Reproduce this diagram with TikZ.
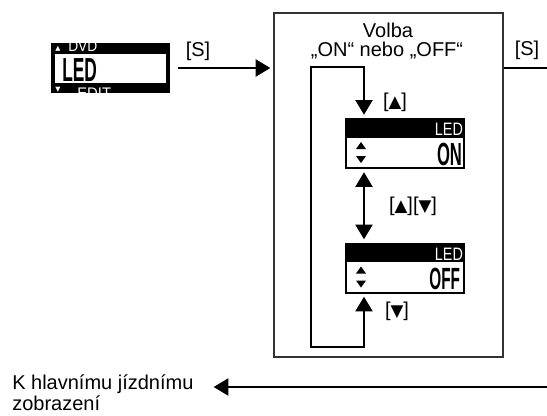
\documentclass[tikz,border=0pt]{standalone}
\usepackage{fontspec}
\setmainfont{Liberation Sans}
\newfontfamily\symf{DejaVu Sans}
\usetikzlibrary{arrows.meta,calc}
\newdimen\pxu \pxu=0.75pt
\newcommand{\wt}[1]{#1}
\newcommand{\tri}[1]{{\symf\fontsize{12.5}{12.5}\selectfont #1}}
\newcommand{\lcd}[3]{\scalebox{#1}[1]{\fontsize{#2}{#2}\selectfont #3}}
\tikzset{
  arr/.style={-{Triangle[width=13pt,length=11pt]}, line width=0.8pt},
  dbl/.style={{Triangle[width=13pt,length=11pt]}-{Triangle[width=13pt,length=11pt]}, line width=0.8pt},
  plainline/.style={line width=0.8pt},
  lbl/.style={font=\fontsize{15}{17}\selectfont, inner sep=0pt},
  dispbox/.style={fill=black, draw=none, minimum width=120\pxu, minimum height=51\pxu, inner sep=0pt},
  panelbox/.style={draw=black!80, line width=1.1pt, minimum width=229\pxu, minimum height=344\pxu, inner sep=0pt},
  lcdw/.style={text=white, inner sep=0pt},
  lcdb/.style={text=black, inner sep=0pt, font=\bfseries},
}
\begin{document}
\begin{tikzpicture}[x=0.75pt,y=-0.75pt]
\useasboundingbox (0,0) rectangle (547,415);

% main panel
\node[panelbox] (panel) at (388.5,185) {};
\node[lbl, anchor=base] (volba1) at (388,37) {\wt{Volba}};
\node[lbl, anchor=base] (volba2) at (387,56) {\wt{„ON“ nebo „OFF“}};

% left display
\node[dispbox, minimum width=119\pxu, minimum height=50\pxu] (menu) at (110.5,68) {};
\fill[white] (55,54) rectangle (166,83);
\begin{scope}
  \clip (51,43) rectangle (170,53);
  \node[lcdw, anchor=base west] (uparr) at (55,50) {{\symf\fontsize{5}{5}\selectfont ▲}};
  \node[lcdw, anchor=base west] (dvd) at (68,51) {\lcd{0.9}{11.5}{DVD}};
\end{scope}
\begin{scope}
  \clip (51,83) rectangle (170,93);
  \node[lcdw, anchor=base west] (dnarr) at (55,91) {{\symf\fontsize{5}{5}\selectfont ▼}};
  \node[lcdw, anchor=base west] (edit) at (77,98) {\lcd{0.97}{11.5}{EDIT.}};
\end{scope}
\node[lcdb, anchor=base west] (menuled) at (62,81) {\lcd{0.52}{25}{LED}};

% display ON
\node[dispbox] (don) at (405,143.5) {};
\fill[white] ($(don.south west)+(2,-2)$) rectangle ($(don.north east)+(-2,20)$);
\node[lcdw, anchor=base east] (donled) at ($(don.north east)+(-2,18)$) {\lcd{0.8}{13.5}{LED}};
\node[lcdb, anchor=base east] (donval) at ($(don.south east)+(-3,-4)$) {\lcd{0.52}{24}{ON}};
\fill (356,149) -- (366,149) -- (361,142) -- cycle;
\fill (356,156) -- (366,156) -- (361,163) -- cycle;

% display OFF
\node[dispbox] (doff) at (405,268) {};
\fill[white] ($(doff.south west)+(2,-2)$) rectangle ($(doff.north east)+(-2,20)$);
\node[lcdw, anchor=base east] (doffled) at ($(doff.north east)+(-2,18)$) {\lcd{0.8}{13.5}{LED}};
\node[lcdb, anchor=base east] (doffval) at ($(doff.south east)+(-5,-4)$) {\lcd{0.5}{23}{OFF}};
\fill (356,273.5) -- (366,273.5) -- (361,266.5) -- cycle;
\fill (356,280.5) -- (366,280.5) -- (361,287.5) -- cycle;

% loop and arrows
\coordinate (lt) at (311,67);
\coordinate (lb) at (311,347);
\draw[dbl] ($(don.north)+(-41,-3)$) |- (lt) -- (lb) -| ($(doff.south)+(-41,3)$);
\draw[dbl] ($(don.south)+(-41,3)$) -- ($(doff.north)+(-41,-3)$);

\node[lbl] (lup) at (395,102) {\wt{[\tri{▲}]}};
\node[lbl] (lboth) at (413,206) {\wt{[\tri{▲}][\tri{▼}]}};
\node[lbl] (ldn) at (397,311) {\wt{[\tri{▼}]}};

% S arrows
\draw[arr] ($(menu.east)+(8,0)$) -- ($(panel.west |- menu.east)+(-3,0)$);
\node[lbl] (s1) at (198,51) {\wt{[S]}};
\coordinate (sout) at (547,68);
\draw[plainline] (panel.east |- sout) -- (sout);
\node[lbl] (s2) at (527,50) {\wt{[S]}};

% bottom
\node[lbl, anchor=base west] (k1) at (12,389) {\wt{K hlavnímu jízdnímu}};
\node[lbl, anchor=base west] (k2) at (12,410) {\wt{zobrazení}};
\coordinate (kin) at (547,387);
\draw[arr] (kin) -- ($(kin -| k1.east)+(20,0)$);
\end{tikzpicture}
\end{document}
